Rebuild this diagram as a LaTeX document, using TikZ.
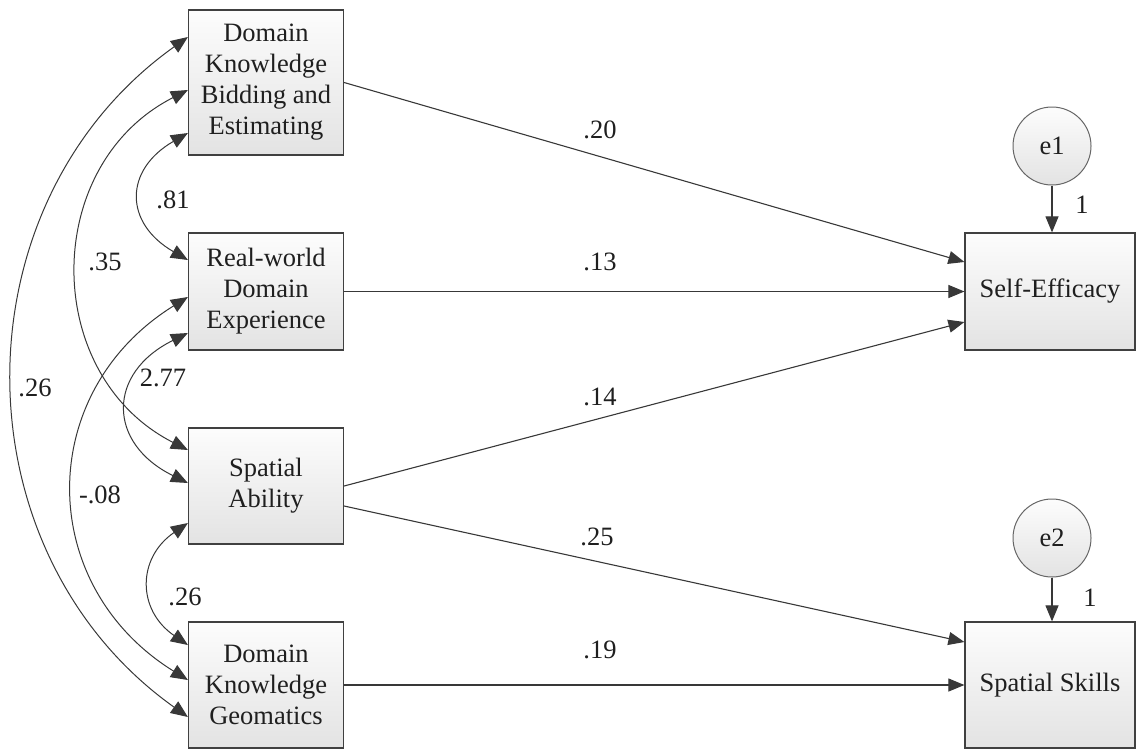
\documentclass[tikz,border=0pt]{standalone}
\usepackage{fontspec}
\setmainfont{Liberation Serif}
\usetikzlibrary{arrows.meta,calc}
\begin{document}
\begin{tikzpicture}[x=1pt,y=-1pt,
  every node/.style={font=\fontsize{26.5}{31}\selectfont, text=black!88},
  var/.style={draw=black!75, line width=1.2pt, top color=black!1, bottom color=black!11, align=center, inner sep=0pt},
  err/.style={circle, draw=black!60, line width=1pt, top color=black!1, bottom color=black!11, minimum size=78pt, inner sep=0pt},
  reg/.style={draw=black!78, line width=1.1pt, -{Triangle[length=16pt,width=13pt]}},
  cov/.style={draw=black!78, line width=1pt, {Triangle[length=17pt,width=14pt]}-{Triangle[length=17pt,width=14pt]}},
  lbl/.style={inner sep=0pt}
]
\useasboundingbox (0,0) rectangle (1139,750);
% observed variables
\node[var, minimum width=155pt, minimum height=145pt] (b1) at (266,82.5) {Domain\\Knowledge\\Bidding and\\Estimating};
\node[var, minimum width=155pt, minimum height=117pt] (b2) at (266,291.5) {Real-world\\Domain\\Experience};
\node[var, minimum width=155pt, minimum height=116pt] (b3) at (266,486) {Spatial\\Ability};
\node[var, minimum width=155pt, minimum height=126pt] (b4) at (266,685) {Domain\\Knowledge\\Geomatics};
\node[var, minimum width=170pt, minimum height=117pt] (se) at (1050,291.5) {Self-Efficacy};
\node[var, minimum width=170pt, minimum height=126pt] (ss) at (1050,685) {Spatial Skills};
\node[err] (e1) at (1052,146) {e1};
\node[err] (e2) at (1052,538) {e2};
% regression paths
\draw[reg] (b1.east) -- ([yshift=29.5pt]se.west);
\draw[reg] (b2.east) -- (se.west);
\draw[reg] (b3.east) -- ([yshift=-30.5pt]se.west);
\draw[reg] ([yshift=-20pt]b3.east) -- ([yshift=43pt]ss.west);
\draw[reg] (b4.east) -- (ss.west);
\draw[reg] (e1) -- (e1 |- se.north);
\draw[reg] (e2) -- (e2 |- ss.north);
% covariances
\draw[cov] ([yshift=45.5pt]b1.west) .. controls +(-233,166) and +(-233,-166) .. ([yshift=-32pt]b4.west);
\draw[cov] ([yshift=-7.5pt]b1.west) .. controls +(-147,75) and +(-147,-75) .. ([yshift=36pt]b3.west);
\draw[cov] ([yshift=-5.5pt]b2.west) .. controls +(-153,95) and +(-153,-95) .. ([yshift=5pt]b4.west);
\draw[cov] ([yshift=-50.5pt]b1.west) .. controls +(-64,37) and +(-64,-37) .. ([yshift=31.5pt]b2.west);
\draw[cov] ([yshift=-41.5pt]b2.west) .. controls +(-81,40) and +(-81,-40) .. ([yshift=3pt]b3.west);
\draw[cov] ([yshift=-37pt]b3.west) .. controls +(-51,35) and +(-51,-35) .. ([yshift=40pt]b4.west);
% labels
\node[lbl] (l20) at (600,130) {.20};
\node[lbl] (l13) at (600,262) {.13};
\node[lbl] (l14) at (600,397) {.14};
\node[lbl] (l25) at (597,537) {.25};
\node[lbl] (l19) at (600,650) {.19};
\node[lbl] (l1a) at (1082,205) {1};
\node[lbl] (l1b) at (1090,598) {1};
\node[lbl] (l81) at (173,200) {.81};
\node[lbl] (l35) at (105,262) {.35};
\node[lbl] (l277) at (163,378) {2.77};
\node[lbl] (l26o) at (35,388) {.26};
\node[lbl] (l08) at (100,495) {-.08};
\node[lbl] (l26i) at (185,597) {.26};
\end{tikzpicture}
\end{document}
